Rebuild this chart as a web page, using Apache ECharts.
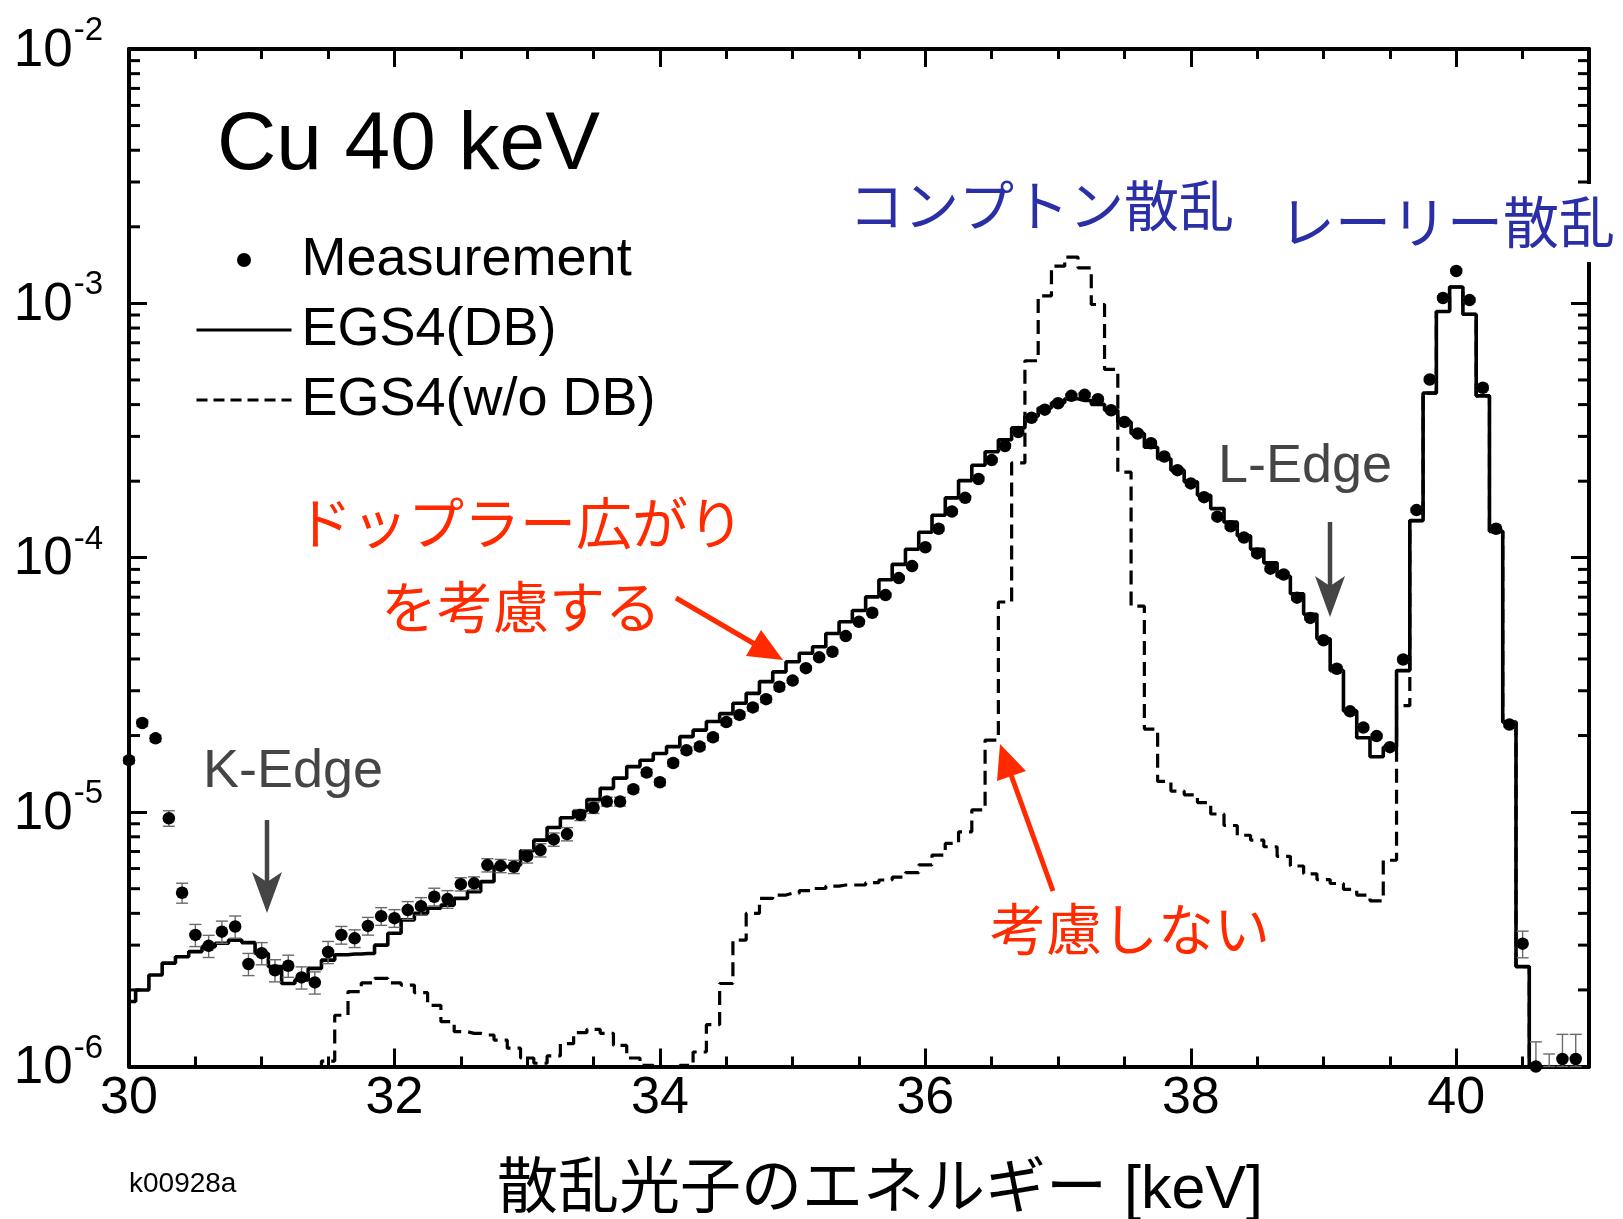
<!DOCTYPE html>
<html>
<head>
<meta charset="utf-8">
<script src="https://cdn.jsdelivr.net/npm/echarts@6/dist/echarts.min.js"></script>
<style>
html,body{margin:0;padding:0;background:#fff;}
#chart{width:1623px;height:1219px;}
</style>
</head>
<body>
<div id="chart"></div>
<script>
// ---------------- DATA ----------------
const energy = [
  30.0,30.1,30.2,30.3,30.4,30.5,30.6,30.7,30.8,30.9,
  31.0,31.1,31.2,31.3,31.4,31.5,31.6,31.7,31.8,31.9,
  32.0,32.1,32.2,32.3,32.4,32.5,32.6,32.7,32.8,32.9,
  33.0,33.1,33.2,33.3,33.4,33.5,33.6,33.7,33.8,33.9,
  34.0,34.1,34.2,34.3,34.4,34.5,34.6,34.7,34.8,34.9,
  35.0,35.1,35.2,35.3,35.4,35.5,35.6,35.7,35.8,35.9,
  36.0,36.1,36.2,36.3,36.4,36.5,36.6,36.7,36.8,36.9,
  37.0,37.1,37.2,37.3,37.4,37.5,37.6,37.7,37.8,37.9,
  38.0,38.1,38.2,38.3,38.4,38.5,38.6,38.7,38.8,38.9,
  39.0,39.1,39.2,39.3,39.4,39.5,39.6,39.7,39.8,39.9,
  40.0,40.1,40.2,40.3,40.4,40.5,40.6,40.7,40.8,40.9,
  41.0
];

// EGS4 with Doppler broadening (solid histogram)
const egsDB = [
  1.80e-6,2.00e-6,2.29e-6,2.55e-6,2.70e-6,2.83e-6,2.96e-6,3.05e-6,3.14e-6,3.07e-6,
  2.78e-6,2.47e-6,2.12e-6,2.19e-6,2.43e-6,2.62e-6,2.75e-6,2.77e-6,2.78e-6,3.00e-6,
  3.34e-6,3.77e-6,4.00e-6,4.19e-6,4.31e-6,4.58e-6,4.87e-6,5.33e-6,6.10e-6,6.19e-6,
  7.05e-6,7.76e-6,8.70e-6,9.50e-6,1.01e-5,1.12e-5,1.24e-5,1.36e-5,1.51e-5,1.60e-5,
  1.70e-5,1.81e-5,1.98e-5,2.10e-5,2.27e-5,2.44e-5,2.68e-5,2.93e-5,3.26e-5,3.56e-5,
  3.90e-5,4.21e-5,4.47e-5,5.04e-5,5.60e-5,6.20e-5,7.02e-5,8.19e-5,9.42e-5,1.08e-4,
  1.26e-4,1.47e-4,1.72e-4,2.01e-4,2.31e-4,2.61e-4,2.91e-4,3.24e-4,3.60e-4,3.88e-4,
  4.07e-4,4.22e-4,4.15e-4,4.01e-4,3.80e-4,3.42e-4,3.08e-4,2.72e-4,2.45e-4,2.21e-4,
  1.99e-4,1.76e-4,1.56e-4,1.38e-4,1.22e-4,1.08e-4,9.55e-5,8.45e-5,7.22e-5,6.00e-5,
  4.80e-5,3.60e-5,2.50e-5,1.96e-5,1.65e-5,1.80e-5,3.60e-5,1.40e-4,4.44e-4,9.29e-4,
  1.16e-3,9.06e-4,4.33e-4,1.27e-4,2.26e-5,2.47e-6,5.0e-7,null,null,null,
  null
];

// EGS4 without Doppler broadening (dashed histogram)
const egsNoDB = [
  null,null,null,null,null,null,null,null,null,null,
  null,null,null,null,5.0e-7,1.05e-6,1.59e-6,1.97e-6,2.13e-6,2.22e-6,
  2.13e-6,2.09e-6,1.95e-6,1.74e-6,1.50e-6,1.37e-6,1.35e-6,1.33e-6,1.27e-6,1.18e-6,
  1.08e-6,1.03e-6,1.10e-6,1.23e-6,1.36e-6,1.40e-6,1.35e-6,1.21e-6,1.08e-6,1.01e-6,
  8.0e-7,8.0e-7,1.01e-6,1.14e-6,1.46e-6,2.12e-6,3.14e-6,4.00e-6,4.58e-6,4.72e-6,
  4.80e-6,4.91e-6,5.01e-6,5.12e-6,5.17e-6,5.17e-6,5.28e-6,5.41e-6,5.55e-6,5.78e-6,
  6.20e-6,6.78e-6,7.53e-6,8.37e-6,1.02e-5,1.92e-5,6.70e-5,2.36e-4,5.95e-4,1.07e-3,
  1.40e-3,1.52e-3,1.38e-3,9.90e-4,5.50e-4,2.17e-4,6.45e-5,2.12e-5,1.32e-5,1.21e-5,
  1.17e-5,1.09e-5,9.83e-6,8.86e-6,8.11e-6,7.76e-6,7.31e-6,6.70e-6,6.14e-6,5.72e-6,
  5.43e-6,5.24e-6,4.97e-6,4.72e-6,4.48e-6,6.47e-6,2.62e-5,1.40e-4,4.44e-4,9.29e-4,
  1.16e-3,9.06e-4,4.33e-4,1.27e-4,2.26e-5,2.47e-6,5.0e-7,null,null,null,
  null
];

// Measurement (dots)
const measurement = [
  1.60e-5,2.24e-5,1.95e-5,9.46e-6,4.82e-6,3.29e-6,2.98e-6,3.39e-6,3.55e-6,2.53e-6,
  2.79e-6,2.39e-6,2.49e-6,2.24e-6,2.14e-6,2.82e-6,3.29e-6,3.19e-6,3.57e-6,3.90e-6,
  3.83e-6,4.12e-6,4.27e-6,4.65e-6,4.55e-6,5.21e-6,5.25e-6,6.19e-6,6.15e-6,6.10e-6,
  6.71e-6,7.09e-6,7.81e-6,8.20e-6,9.75e-6,1.04e-5,1.10e-5,1.10e-5,1.23e-5,1.43e-5,
  1.31e-5,1.56e-5,1.75e-5,1.81e-5,1.97e-5,2.26e-5,2.41e-5,2.58e-5,2.78e-5,3.11e-5,
  3.29e-5,3.68e-5,4.06e-5,4.27e-5,4.92e-5,5.60e-5,6.08e-5,7.13e-5,8.32e-5,9.27e-5,
  1.10e-4,1.30e-4,1.52e-4,1.72e-4,2.04e-4,2.42e-4,2.75e-4,3.12e-4,3.55e-4,3.82e-4,
  4.05e-4,4.33e-4,4.37e-4,4.20e-4,3.80e-4,3.42e-4,3.08e-4,2.82e-4,2.50e-4,2.21e-4,
  1.96e-4,1.73e-4,1.45e-4,1.33e-4,1.20e-4,1.04e-4,9.06e-5,8.59e-5,6.97e-5,5.80e-5,
  4.74e-5,3.66e-5,2.49e-5,2.15e-5,1.99e-5,1.80e-5,3.98e-5,1.54e-4,5.02e-4,1.05e-3,
  1.34e-3,1.03e-3,4.66e-4,1.30e-4,2.21e-5,3.04e-6,1.00e-6,8.0e-7,1.07e-6,1.07e-6,
  null
];

// Relative error of each measurement (error-bar half length / value)
const measErrRel = [
  0.03,0.03,0.03,0.07,0.09,0.10,0.10,0.10,0.10,0.10,
  0.10,0.10,0.10,0.10,0.10,0.10,0.08,0.08,0.08,0.08,
  0.08,0.08,0.08,0.08,0.08,0.06,0.06,0.06,0.06,0.06,
  0.06,0.06,0.06,0.06,0.05,0.05,0.04,0.04,0.03,0.03,
  0.03,0.03,0.03,0.03,0.03,0.03,0.03,0.03,0.03,0.03,
  0.02,0.02,0.02,0.02,0.02,0.02,0.02,0.02,0.02,0.02,
  0.02,0.02,0.02,0.02,0.02,0.02,0.02,0.02,0.02,0.02,
  0.02,0.02,0.02,0.02,0.02,0.02,0.02,0.02,0.02,0.02,
  0.02,0.02,0.02,0.02,0.02,0.02,0.02,0.02,0.02,0.02,
  0.02,0.02,0.02,0.02,0.02,0.02,0.02,0.02,0.02,0.02,
  0.02,0.02,0.02,0.02,0.02,0.12,0.25,0.40,0.25,0.25,
  0
];

const xRange = [30, 41];
const yRange = [1e-6, 1e-2];
const yMinorTicks = [
  2e-6,3e-6,4e-6,5e-6,6e-6,7e-6,8e-6,9e-6,
  2e-5,3e-5,4e-5,5e-5,6e-5,7e-5,8e-5,9e-5,
  2e-4,3e-4,4e-4,5e-4,6e-4,7e-4,8e-4,9e-4,
  2e-3,3e-3,4e-3,5e-3,6e-3,7e-3,8e-3,9e-3
];
const seriesNames = ['Measurement', 'EGS4(DB)', 'EGS4(w/o DB)'];

// ---------------- CHART ----------------
const LATIN = '"Liberation Sans", Arial, Helvetica, sans-serif';
const JP = '"Noto Sans CJK JP", "Noto Sans CJK SC", sans-serif';
const RED = '#ff2a00';
const BLUE = '#2b2fa6';
const GREY = '#454545';
const DASH = [14, 7];

const pairs = arr => energy.map((e, i) => [e, arr[i]]);
const errData = [];
energy.forEach((e, i) => {
  const v = measurement[i], r = measErrRel[i];
  if (v != null && r > 0) errData.push([e, Math.max(v * (1 - r), yRange[0]), v * (1 + r)]);
});

const chart = echarts.init(document.getElementById('chart'), null, {renderer: 'canvas'});

const tickLine = {lineStyle: {color: '#000', width: 3}};
const baseX = {
  type: 'value', min: xRange[0], max: xRange[1],
  splitLine: {show: false}, axisLine: {show: false}, axisLabel: {show: false}
};
const baseY = {
  type: 'log', logBase: 10, min: yRange[0], max: yRange[1],
  splitLine: {show: false}, axisLabel: {show: false}
};
const noSymbol = {color: 'rgba(0,0,0,0)', borderColor: 'rgba(0,0,0,0)', borderWidth: 0, opacity: 0};

const option = {
  animation: false,
  backgroundColor: '#fff',
  grid: {left: 129, top: 49, right: 34, bottom: 152.5, containLabel: false, outerBoundsMode: 'none'},
  xAxis: [
    Object.assign({}, baseX, {
      position: 'bottom', interval: 2,
      axisLine: {show: true, onZero: false, lineStyle: {color: '#000', width: 4}},
      axisTick: Object.assign({inside: true, length: 18}, tickLine),
      axisLabel: {show: true, margin: 6, fontSize: 52, color: '#000', fontFamily: LATIN,
        showMaxLabel: false,
        formatter: v => (v > 40.5 ? '' : String(v))},
      name: '散乱光子のエネルギー [keV]',
      nameLocation: 'middle', nameGap: 94,
      nameTextStyle: {fontSize: 61, color: '#000', fontFamily: LATIN + ', ' + JP, padding: [0, 0, 0, 42]}
    }),
    Object.assign({}, baseX, {
      position: 'bottom', interval: 0.5,
      axisTick: Object.assign({inside: true, length: 10}, tickLine)
    }),
    Object.assign({}, baseX, {
      position: 'top', interval: 2,
      axisLine: {show: true, onZero: false, lineStyle: {color: '#000', width: 4}},
      axisTick: Object.assign({inside: true, length: 18}, tickLine)
    }),
    Object.assign({}, baseX, {
      position: 'top', interval: 0.5,
      axisTick: Object.assign({inside: true, length: 10}, tickLine)
    })
  ],
  yAxis: [
    Object.assign({}, baseY, {
      position: 'left',
      axisLine: {show: true, onZero: false, lineStyle: {color: '#000', width: 4}},
      axisTick: Object.assign({inside: true, length: 18}, tickLine),
      axisLabel: {
        show: true, margin: 26, color: '#000', fontFamily: LATIN,
        padding: [0, 0, 6, 0],
        formatter: v => '{b|10}{s|' + Math.round(Math.log10(v)) + '}',
        rich: {
          b: {fontSize: 53, fontFamily: LATIN, color: '#000', padding: [10, 0, 0, 0], verticalAlign: 'bottom'},
          s: {fontSize: 33, fontFamily: LATIN, color: '#000', verticalAlign: 'top', padding: [0, 0, 0, 1]}
        }
      }
    }),
    Object.assign({}, baseY, {
      position: 'right',
      axisLine: {show: true, onZero: false, lineStyle: {color: '#000', width: 4}},
      axisTick: Object.assign({inside: true, length: 18}, tickLine)
    })
  ],
  legend: {
    orient: 'vertical', left: 195, top: 233, padding: 0,
    itemWidth: 95, itemHeight: 14, itemGap: 16,
    selectedMode: false,
    textStyle: {fontSize: 54, color: '#000', fontFamily: LATIN, padding: [0, 0, 0, 5]},
    data: [
      {name: seriesNames[0], icon: 'circle', itemStyle: {color: '#000', opacity: 1}},
      {name: seriesNames[1], itemStyle: noSymbol, lineStyle: {color: '#000', width: 3, type: 'solid'}},
      {name: seriesNames[2], itemStyle: noSymbol, lineStyle: {color: '#000', width: 3, type: [11, 6]}}
    ]
  },
  series: [
    {
      name: seriesNames[2], type: 'line', step: 'middle', data: pairs(egsNoDB),
      xAxisIndex: 0, yAxisIndex: 0, symbol: 'none', showSymbol: false, clip: true, z: 2,
      lineStyle: {color: '#000', width: 3.2, type: DASH}, itemStyle: {color: '#000'}
    },
    {
      name: seriesNames[1], type: 'line', step: 'middle', data: pairs(egsDB),
      xAxisIndex: 0, yAxisIndex: 0, symbol: 'none', showSymbol: false, clip: true, z: 3,
      lineStyle: {color: '#000', width: 3.6}, itemStyle: {color: '#000'}
    },
    {
      name: 'errorbars', type: 'custom', data: errData, xAxisIndex: 0, yAxisIndex: 0,
      silent: true, z: 4, encode: {x: 0, y: [1, 2]},
      renderItem: (params, api) => {
        const x = api.value(0);
        const lo = api.coord([x, api.value(1)]);
        const hi = api.coord([x, api.value(2)]);
        const st = {stroke: '#6a6a6a', lineWidth: 1.4};
        return {type: 'group', children: [
          {type: 'line', shape: {x1: lo[0], y1: lo[1], x2: hi[0], y2: hi[1]}, style: st},
          {type: 'line', shape: {x1: hi[0] - 6, y1: hi[1], x2: hi[0] + 6, y2: hi[1]}, style: st},
          {type: 'line', shape: {x1: lo[0] - 6, y1: lo[1], x2: lo[0] + 6, y2: lo[1]}, style: st}
        ]};
      }
    },
    {
      name: seriesNames[0], type: 'scatter', data: pairs(measurement),
      xAxisIndex: 0, yAxisIndex: 0, symbol: 'circle', symbolSize: 12.5, z: 5, clip: true,
      itemStyle: {color: '#000', opacity: 1}
    },
    {
      name: 'minorTicks', type: 'custom', silent: true, z: 6,
      xAxisIndex: 0, yAxisIndex: 0,
      data: yMinorTicks.map(v => [xRange[0], v]),
      encode: {x: 0, y: 1},
      renderItem: (params, api) => {
        const v = api.value(1);
        const L = api.coord([xRange[0], v]);
        const R = api.coord([xRange[1], v]);
        const st = {stroke: '#000', lineWidth: 3};
        return {type: 'group', children: [
          {type: 'line', shape: {x1: L[0], y1: L[1], x2: L[0] + 11, y2: L[1]}, style: st},
          {type: 'line', shape: {x1: R[0] - 11, y1: R[1], x2: R[0], y2: R[1]}, style: st}
        ]};
      }
    }
  ],
  graphic: [
    // title inside plot
    {type: 'text', z: 100, style: {text: 'Cu 40 keV', x: 217, y: 146, font: '82px ' + LATIN, fill: '#000', textAlign: 'left', textVerticalAlign: 'middle', align: 'left', verticalAlign: 'middle'}},
    // blue labels
    {type: 'text', z: 100, style: {text: 'コンプトン散乱', x: 849, y: 205, font: '55px ' + JP, fill: BLUE, textAlign: 'left', textVerticalAlign: 'middle', align: 'left', verticalAlign: 'middle'}},
    {type: 'rect', z: 99, shape: {x: 1278, y: 184, width: 345, height: 78}, style: {fill: '#fff'}},
    {type: 'text', z: 100, style: {text: 'レーリー散乱', x: 1279, y: 222, font: '56px ' + JP, fill: BLUE, textAlign: 'left', textVerticalAlign: 'middle', align: 'left', verticalAlign: 'middle'}},
    // red labels
    {type: 'text', z: 100, style: {text: 'ドップラー広がり', x: 520, y: 523, font: '56px ' + JP, fill: RED, textAlign: 'center', textVerticalAlign: 'middle', align: 'center', verticalAlign: 'middle'}},
    {type: 'text', z: 100, style: {text: 'を考慮する', x: 521, y: 607, font: '56px ' + JP, fill: RED, textAlign: 'center', textVerticalAlign: 'middle', align: 'center', verticalAlign: 'middle'}},
    {type: 'text', z: 100, style: {text: '考慮しない', x: 1130, y: 929, font: '56px ' + JP, fill: RED, textAlign: 'center', textVerticalAlign: 'middle', align: 'center', verticalAlign: 'middle'}},
    // red arrows
    {type: 'line', z: 100, shape: {x1: 676, y1: 598, x2: 758, y2: 646}, style: {stroke: RED, lineWidth: 5}},
    {type: 'polygon', z: 100, shape: {points: [[783, 660], [746, 656], [761, 630]]}, style: {fill: RED}},
    {type: 'line', z: 100, shape: {x1: 1053, y1: 891, x2: 1010, y2: 772}, style: {stroke: RED, lineWidth: 5}},
    {type: 'polygon', z: 100, shape: {points: [[1000, 744], [1026, 771], [997, 781]]}, style: {fill: RED}},
    // K-Edge / L-Edge
    {type: 'text', z: 100, style: {text: 'K-Edge', x: 203, y: 772, font: '54px ' + LATIN, fill: GREY, textAlign: 'left', textVerticalAlign: 'middle', align: 'left', verticalAlign: 'middle'}},
    {type: 'line', z: 100, shape: {x1: 267, y1: 820, x2: 267, y2: 885}, style: {stroke: GREY, lineWidth: 4.5}},
    {type: 'polygon', z: 100, shape: {points: [[252, 872], [267, 913], [282, 872], [267, 882]]}, style: {fill: GREY}},
    {type: 'text', z: 100, style: {text: 'L-Edge', x: 1218, y: 467, font: '54px ' + LATIN, fill: GREY, textAlign: 'left', textVerticalAlign: 'middle', align: 'left', verticalAlign: 'middle'}},
    {type: 'line', z: 100, shape: {x1: 1330, y1: 522, x2: 1330, y2: 588}, style: {stroke: GREY, lineWidth: 4.5}},
    {type: 'polygon', z: 100, shape: {points: [[1315, 576], [1330, 617], [1345, 576], [1330, 586]]}, style: {fill: GREY}},
    // figure id
    {type: 'text', z: 100, style: {text: 'k00928a', x: 129, y: 1184, font: '28px ' + LATIN, fill: '#000', textAlign: 'left', textVerticalAlign: 'middle', align: 'left', verticalAlign: 'middle'}}
  ]
};

chart.setOption(option);
</script>
</body>
</html>
